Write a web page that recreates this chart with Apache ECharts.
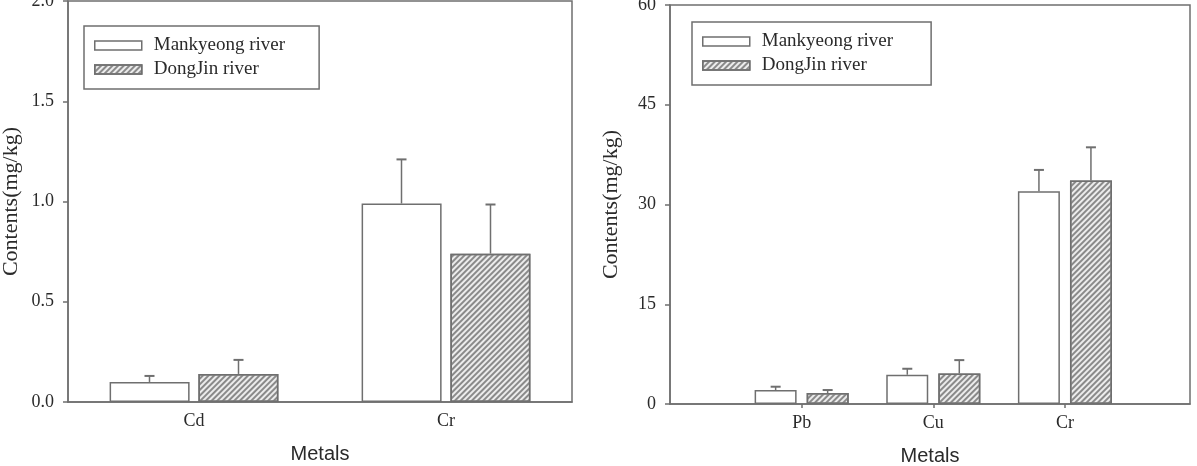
<!DOCTYPE html>
<html>
<head>
<meta charset="utf-8">
<script src="https://cdn.jsdelivr.net/npm/echarts@6/dist/echarts.min.js"></script>
<style>
    html, body { margin: 0; padding: 0; background: #fff; }
    #main { width: 1197px; height: 466px; }
</style>
</head>
<body>
<div id="main"></div>
<script>
// left panel: Cd, Cr
var leftCategories = ['Cd', 'Cr'];
var mankLeft = [0.10, 0.99];
var mankLeftErr = [0.03, 0.22];
var dongLeft = [0.14, 0.74];
var dongLeftErr = [0.07, 0.245];
var leftTicks = [0, 0.5, 1.0, 1.5, 2.0];

// right panel: Pb, Cu, Cr (placed at x = 1, 2, 3)
var rightCategories = ['Pb', 'Cu', 'Cr'];
var rightPositions = [1, 2, 3];
var mankRight = [2.1, 4.4, 32.0];
var mankRightErr = [0.5, 0.9, 3.2];
var dongRight = [1.65, 4.6, 33.6];
var dongRightErr = [0.45, 2.0, 5.0];
var rightTicks = [0, 15, 30, 45, 60];

var legendNames = ['Mankyeong river', 'DongJin river'];

var lineColor = '#6f6f6f';
var textColor = '#2a2a2a';
var serif = 'Liberation Serif';

// '/' hatching for the DongJin bars
var hatch = {
    symbol: 'rect',
    symbolSize: 1,
    color: '#8a8a8a',
    dashArrayX: [1, 0],
    dashArrayY: [1.6, 2],
    rotation: -Math.PI / 4
};

function errorBars(offset) {
    return function (params, api) {
        var x = api.value(0), v = api.value(1), e = api.value(2);
        var base = api.coord([x, v]);
        var top = api.coord([x, v + e]);
        var cx = base[0] + offset;
        return {
            type: 'group',
            children: [
                { type: 'line', shape: { x1: cx, y1: base[1], x2: cx, y2: top[1] },
                  style: { stroke: lineColor, lineWidth: 1.5 } },
                { type: 'line', shape: { x1: cx - 5, y1: top[1], x2: cx + 5, y2: top[1] },
                  style: { stroke: lineColor, lineWidth: 2 } }
            ]
        };
    };
}

function pairs(xs, vals, errs) {
    return vals.map(function (v, i) { return [xs[i], v, errs[i]]; });
}

function legendAt(left, top, padRight) {
    return {
        left: left,
        top: top,
        orient: 'vertical',
        data: legendNames,
        itemWidth: 47,
        itemHeight: 9,
        itemGap: 5,
        icon: 'rect',
        padding: [10, padRight, 10, 10],
        borderColor: lineColor,
        borderWidth: 1.5,
        selectedMode: false,
        itemStyle: { borderColor: lineColor, borderWidth: 1.5 },
        textStyle: { fontFamily: serif, fontSize: 19, color: textColor, lineHeight: 19, padding: [0, 0, 0, 7] }
    };
}

function yAxisFor(gridIndex, max, interval, decimals, nameGap) {
    return {
        type: 'value',
        gridIndex: gridIndex,
        min: 0,
        max: max,
        interval: interval,
        name: 'Contents(mg/kg)',
        nameLocation: 'middle',
        nameGap: nameGap,
        nameTextStyle: { fontFamily: serif, fontSize: 22, color: textColor },
        axisLine: { show: true, lineStyle: { color: lineColor, width: 1.5 } },
        axisTick: { show: true, inside: false, length: 5, lineStyle: { color: lineColor, width: 1.5 } },
        axisLabel: {
            margin: 14,
            fontFamily: serif,
            fontSize: 18,
            color: textColor,
            formatter: function (v) { return v.toFixed(decimals); }
        },
        splitLine: { show: false }
    };
}

var chart = echarts.init(document.getElementById('main'));
chart.setOption({
    backgroundColor: '#fff',
    animation: false,
    legend: [legendAt(84, 26, 34), legendAt(692, 22, 38)],
    grid: [
        { left: 68, top: 1, width: 504, height: 401, show: true, borderColor: lineColor, borderWidth: 1.5,
          containLabel: false, outerBoundsMode: 'none' },
        { left: 670, top: 5, width: 520, height: 399, show: true, borderColor: lineColor, borderWidth: 1.5,
          containLabel: false, outerBoundsMode: 'none' }
    ],
    xAxis: [
        {
            type: 'category',
            gridIndex: 0,
            data: leftCategories,
            name: 'Metals',
            nameLocation: 'middle',
            nameGap: 42,
            nameTextStyle: { fontFamily: 'Liberation Sans', fontSize: 20, color: textColor },
            axisLine: { lineStyle: { color: lineColor, width: 1.5 } },
            axisTick: { alignWithLabel: true, length: 4, lineStyle: { color: lineColor, width: 1.5 } },
            axisLabel: { margin: 10, fontFamily: serif, fontSize: 18, color: textColor }
        },
        {
            type: 'value',
            gridIndex: 1,
            min: 0,
            max: 3.95,
            interval: 1,
            name: 'Metals',
            nameLocation: 'middle',
            nameGap: 42,
            nameTextStyle: { fontFamily: 'Liberation Sans', fontSize: 20, color: textColor },
            axisLine: { lineStyle: { color: lineColor, width: 1.5 } },
            axisTick: { length: 4, customValues: rightPositions, lineStyle: { color: lineColor, width: 1.5 } },
            axisLabel: {
                margin: 10, fontFamily: serif, fontSize: 18, color: textColor,
                customValues: rightPositions,
                formatter: function (v) { return rightCategories[rightPositions.indexOf(v)] || ''; }
            },
            splitLine: { show: false }
        }
    ],
    yAxis: [
        yAxisFor(0, leftTicks[leftTicks.length - 1], 0.5, 1, 46),
        yAxisFor(1, rightTicks[rightTicks.length - 1], 15, 0, 48)
    ],
    series: [
        {
            name: 'Mankyeong river', type: 'bar', xAxisIndex: 0, yAxisIndex: 0,
            data: mankLeft, barWidth: 80, barGap: '11%',
            itemStyle: { color: '#fff', borderColor: lineColor, borderWidth: 1.5 }
        },
        {
            name: 'DongJin river', type: 'bar', xAxisIndex: 0, yAxisIndex: 0,
            data: dongLeft, barWidth: 80, barGap: '11%',
            itemStyle: { color: '#ececec', borderColor: lineColor, borderWidth: 1.5, decal: hatch }
        },
        {
            name: 'Mankyeong river', type: 'bar', xAxisIndex: 1, yAxisIndex: 1,
            data: mankRight.map(function (v, i) { return [rightPositions[i], v]; }),
            barWidth: 42, barGap: '24%',
            itemStyle: { color: '#fff', borderColor: lineColor, borderWidth: 1.5 }
        },
        {
            name: 'DongJin river', type: 'bar', xAxisIndex: 1, yAxisIndex: 1,
            data: dongRight.map(function (v, i) { return [rightPositions[i], v]; }),
            barWidth: 42, barGap: '24%',
            itemStyle: { color: '#ececec', borderColor: lineColor, borderWidth: 1.5, decal: hatch }
        },
        {
            name: 'err-mank-left', type: 'custom', xAxisIndex: 0, yAxisIndex: 0, z: 5,
            renderItem: errorBars(-44.5), data: pairs([0, 1], mankLeft, mankLeftErr)
        },
        {
            name: 'err-dong-left', type: 'custom', xAxisIndex: 0, yAxisIndex: 0, z: 5,
            renderItem: errorBars(44.5), data: pairs([0, 1], dongLeft, dongLeftErr)
        },
        {
            name: 'err-mank-right', type: 'custom', xAxisIndex: 1, yAxisIndex: 1, z: 5,
            renderItem: errorBars(-26), data: pairs(rightPositions, mankRight, mankRightErr)
        },
        {
            name: 'err-dong-right', type: 'custom', xAxisIndex: 1, yAxisIndex: 1, z: 5,
            renderItem: errorBars(26), data: pairs(rightPositions, dongRight, dongRightErr)
        }
    ]
});
</script>
</body>
</html>
